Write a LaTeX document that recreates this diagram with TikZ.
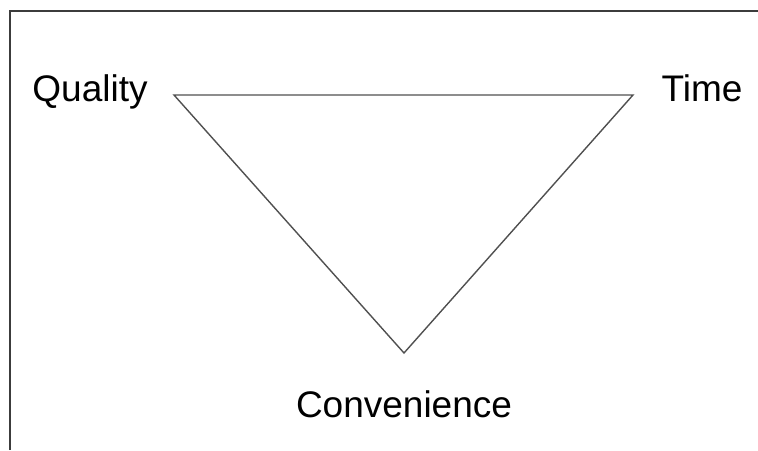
\documentclass[tikz,border=0pt]{standalone}
\usepackage{fontspec}
\setmainfont{Liberation Sans}
\usepackage{xcolor}
\usepackage{tikz}
\usetikzlibrary{positioning}
\definecolor{tframe}{HTML}{3C3C3C}
\definecolor{tedge}{HTML}{505050}
\tikzset{
  frameline/.style={draw=tframe, line width=2.8pt},
  sideline/.style={draw=tedge, line width=1.4pt, line join=miter},
  cornerlabel/.style={font=\fontsize{37}{42}\selectfont, anchor=base, inner sep=0pt}
}
\begin{document}
\begin{tikzpicture}[x=1pt,y=1pt]
        \useasboundingbox (0,0) rectangle (758,450);
        \draw[frameline] (10,0) -- (10,439) -- (760,439);

        \coordinate (quality) at (174,355);
        \coordinate (time) at (633,355);
        \coordinate (conv) at (404,97);

        \draw[sideline] (quality) -- (time) -- (conv) -- cycle;

        \node[cornerlabel] (qlabel) at (90,348) {Quality};
        \node[cornerlabel] (tlabel) at (702,348) {Time};
        \node[cornerlabel] (clabel) at (404,32) {Convenience};
    \end{tikzpicture}
\end{document}
